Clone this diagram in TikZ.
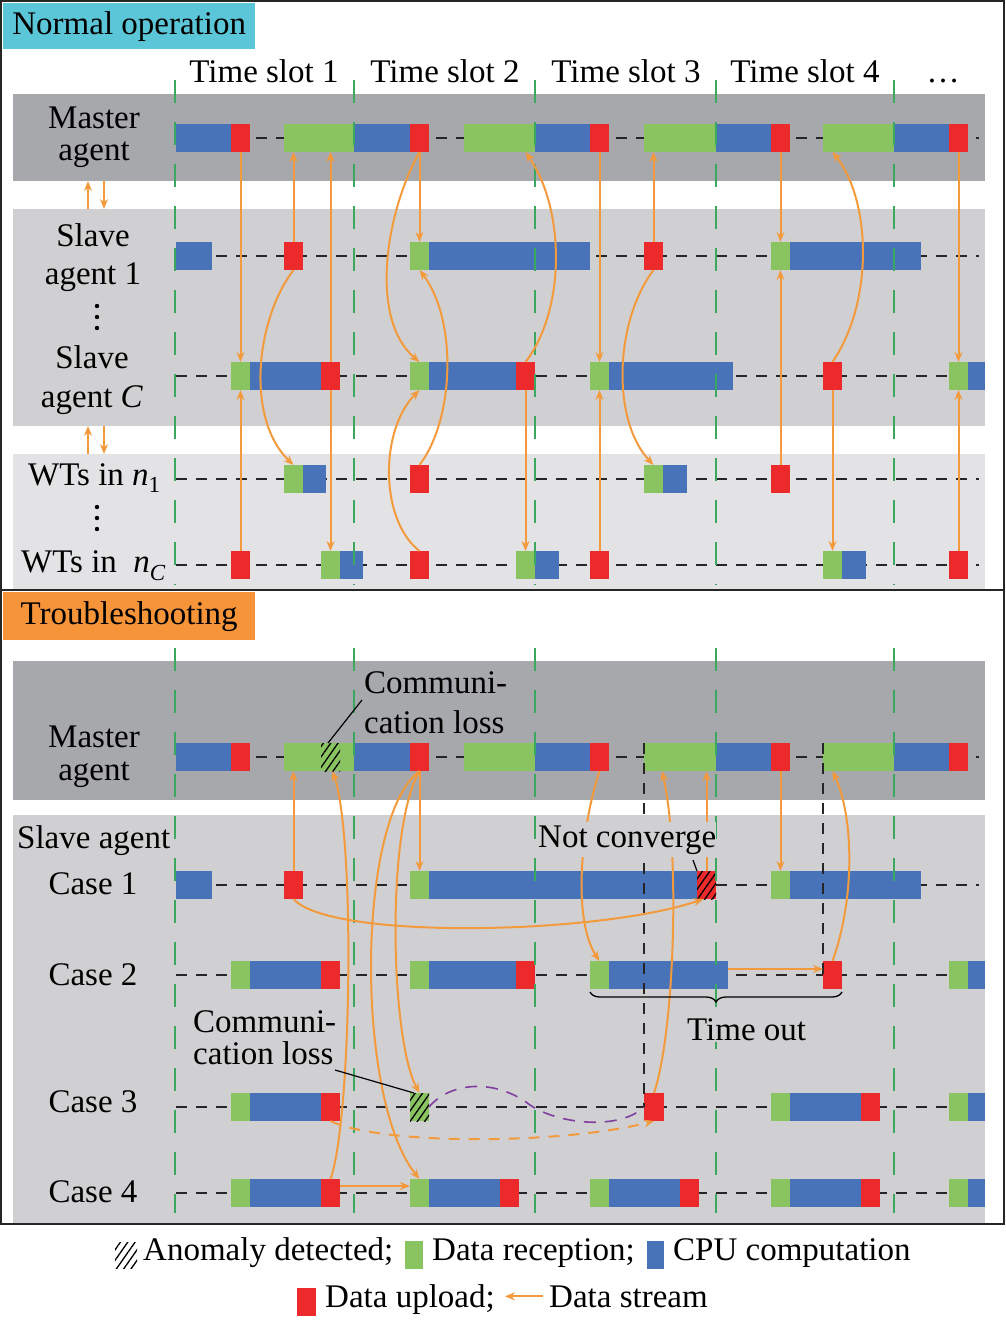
\documentclass[tikz,border=0pt]{standalone}
\usepackage{fontspec}
\setmainfont{Liberation Serif}
\usepackage{tikz}
\usetikzlibrary{arrows.meta,patterns.meta,decorations.pathreplacing}
\definecolor{cgreen}{RGB}{137,196,96}
\definecolor{cblue}{RGB}{72,115,185}
\definecolor{cred}{RGB}{236,42,43}
\definecolor{corange}{RGB}{243,154,61}
\definecolor{ccyan}{RGB}{91,198,216}
\definecolor{ctitle}{RGB}{246,148,58}
\definecolor{gdark}{RGB}{167,168,171}
\definecolor{gmid}{RGB}{208,208,210}
\definecolor{glight}{RGB}{227,227,229}
\definecolor{cgrid}{RGB}{58,168,95}
\definecolor{cpurple}{RGB}{128,62,160}
\tikzstyle{seg}=[rectangle,minimum height=28pt,inner sep=0pt,outer sep=0pt,anchor=west]
\tikzstyle{hatched}=[pattern={Lines[angle=55,distance=6pt,line width=1.3pt]}]
\tikzstyle{band}=[rectangle,inner sep=0pt,outer sep=0pt,minimum width=972pt,anchor=north west]
\tikzstyle{lbl}=[font=\fontsize{33}{33}\selectfont,inner sep=0pt,align=center]
\tikzstyle{flow}=[draw=corange,line width=2pt,-{Stealth[length=10pt,width=8pt]}]
\tikzstyle{timeline}=[draw=black!85,line width=1.3pt,dash pattern=on 11pt off 9pt]
\tikzstyle{slotline}=[draw=cgrid,line width=1.3pt,dash pattern=on 23pt off 19pt]
\tikzstyle{leader}=[draw=black,line width=1.2pt]

\begin{document}
\begin{tikzpicture}[x=1pt,y=-1pt]
    \useasboundingbox (0,0) rectangle (1006,1320);
    % Gray bands of the two panels
    \node[band, fill=gdark, minimum height=87pt] (nBandM) at (13,94) {};
    \node[band, fill=gmid, minimum height=217pt] (nBandS) at (13,209) {};
    \node[band, fill=glight, minimum height=136pt] (nBandW) at (13,454) {};
    \node[band, fill=gdark, minimum height=139pt] (tBandM) at (13,661) {};
    \node[band, fill=gmid, minimum height=409pt] (tBandS) at (13,815) {};

    % Frame and panel titles
    \draw[line width=2pt, draw=black!85] (1,1) rectangle (1004,1224);
    \draw[line width=2pt, draw=black!85] (1,590) -- (1004,590);
    \node[lbl, fill=ccyan, anchor=north west, minimum width=252pt, minimum height=46pt] (titNormal) at (3,3) {Normal operation};
    \node[lbl, fill=ctitle, anchor=north west, minimum width=252pt, minimum height=48pt] (titTrouble) at (3,592) {Troubleshooting};

    % Time lines of every row
    \foreach \y in {138,256,376,479,565,757,885,975,1107,1193}
        \draw[timeline] (176,\y) -- (979,\y);

    % Normal operation: the blocks of each row
    \foreach \x/\w/\c/\name in {176/55/cblue/nMb1, 231/19/cred/nMr1, 284/70/cgreen/nMg2, 354/56/cblue/nMb2, 410/19/cred/nMr2, 464/71/cgreen/nMg3, 535/55/cblue/nMb3, 590/19/cred/nMr3, 644/72/cgreen/nMg4, 716/55/cblue/nMb4, 771/19/cred/nMr4, 823/71/cgreen/nMg5, 894/55/cblue/nMb5, 949/19/cred/nMr5}
        \node[seg, fill=\c, minimum width=\w pt] (\name) at (\x,138) {};
    \foreach \x/\w/\c/\name in {176/36/cblue/nAb1, 284/19/cred/nAr1, 410/19/cgreen/nAg2, 429/161/cblue/nAb2, 644/19/cred/nAr3, 771/19/cgreen/nAg4, 790/131/cblue/nAb4}
        \node[seg, fill=\c, minimum width=\w pt] (\name) at (\x,256) {};
    \foreach \x/\w/\c/\name in {231/19/cgreen/nCg1, 250/71/cblue/nCb1, 321/19/cred/nCr1, 410/19/cgreen/nCg2, 429/87/cblue/nCb2, 516/19/cred/nCr2, 590/19/cgreen/nCg3, 609/124/cblue/nCb3, 823/19/cred/nCr4, 949/19/cgreen/nCg5, 968/17/cblue/nCb5}
        \node[seg, fill=\c, minimum width=\w pt] (\name) at (\x,376) {};
    \foreach \x/\w/\c/\name in {284/19/cgreen/nWg1, 303/23/cblue/nWb1, 410/19/cred/nWr2, 644/19/cgreen/nWg3, 663/24/cblue/nWb3, 771/19/cred/nWr4}
        \node[seg, fill=\c, minimum width=\w pt] (\name) at (\x,479) {};
    \foreach \x/\w/\c/\name in {231/19/cred/nVr1, 321/19/cgreen/nVg1, 340/23/cblue/nVb1, 410/19/cred/nVr2, 516/19/cgreen/nVg2, 535/24/cblue/nVb2, 590/19/cred/nVr3, 823/19/cgreen/nVg4, 842/24/cblue/nVb4, 949/19/cred/nVr5}
        \node[seg, fill=\c, minimum width=\w pt] (\name) at (\x,565) {};

    % Troubleshooting: the blocks of each row
    \foreach \x/\w/\c/\name in {176/55/cblue/tMb1, 231/19/cred/tMr1, 284/70/cgreen/tMg2, 354/56/cblue/tMb2, 410/19/cred/tMr2, 464/71/cgreen/tMg3, 535/55/cblue/tMb3, 590/19/cred/tMr3, 644/72/cgreen/tMg4, 716/55/cblue/tMb4, 771/19/cred/tMr4, 823/71/cgreen/tMg5, 894/55/cblue/tMb5, 949/19/cred/tMr5}
        \node[seg, fill=\c, minimum width=\w pt] (\name) at (\x,757) {};
    \node[seg, minimum width=19pt, preaction={fill=cgreen}, hatched] (tMh) at (321,757) {};
    \foreach \x/\w/\c/\name in {176/36/cblue/t1b1, 284/19/cred/t1r1, 410/19/cgreen/t1g2, 429/268/cblue/t1b2, 771/19/cgreen/t1g4, 790/131/cblue/t1b4}
        \node[seg, fill=\c, minimum width=\w pt] (\name) at (\x,885) {};
    \node[seg, minimum width=19pt, preaction={fill=cred}, hatched] (t1h) at (697,885) {};
    \foreach \x/\w/\c/\name in {231/19/cgreen/t2g1, 250/71/cblue/t2b1, 321/19/cred/t2r1, 410/19/cgreen/t2g2, 429/87/cblue/t2b2, 516/19/cred/t2r2, 590/19/cgreen/t2g3, 609/119/cblue/t2b3, 823/19/cred/t2r4, 949/19/cgreen/t2g5, 968/17/cblue/t2b5}
        \node[seg, fill=\c, minimum width=\w pt] (\name) at (\x,975) {};
    \foreach \x/\w/\c/\name in {231/19/cgreen/t3g1, 250/71/cblue/t3b1, 321/19/cred/t3r1, 644/20/cred/t3r3, 771/19/cgreen/t3g4, 790/71/cblue/t3b4, 861/19/cred/t3r4, 949/19/cgreen/t3g5, 968/17/cblue/t3b5}
        \node[seg, fill=\c, minimum width=\w pt] (\name) at (\x,1107) {};
    \node[seg, minimum width=19pt, preaction={fill=cgreen}, hatched] (t3h) at (410,1107) {};
    \foreach \x/\w/\c/\name in {231/19/cgreen/t4g1, 250/71/cblue/t4b1, 321/19/cred/t4r1, 410/19/cgreen/t4g2, 429/71/cblue/t4b2, 500/19/cred/t4r2, 590/19/cgreen/t4g3, 609/71/cblue/t4b3, 680/19/cred/t4r3, 771/19/cgreen/t4g4, 790/71/cblue/t4b4, 861/19/cred/t4r4, 949/19/cgreen/t4g5, 968/17/cblue/t4b5}
        \node[seg, fill=\c, minimum width=\w pt] (\name) at (\x,1193) {};

    % Time slot borders
    \foreach \x in {175,354,535,716,894} {
        \draw[slotline] (\x,80) -- (\x,585);
        \draw[slotline] (\x,648) -- (\x,1213);
    }
    \draw[timeline] (tMg4.north west) -- (t3r3.west);
    \draw[timeline] (tMg5.north west) -- (t2r4.west);

    % Normal operation: data streams
    \foreach \source/\dest in {nMr1/nCg1, nCr1/nVg1, nMr2/nAg2, nMr3/nCg3, nCr2/nVg2, nMr4/nAg4, nCr4/nVg4, nMr5/nCg5}
        \draw[flow] (\source.south) -- (\source.south |- \dest.north);
    \foreach \source/\dest in {nVr1/nCg1, nAr1/nMg2, nCr1/nMg2, nVr3/nCg3, nAr3/nMg4, nWr4/nAg4, nVr5/nCg5}
        \draw[flow] (\source.north) -- (\source.north |- \dest.south);
    \draw[flow] (nAr1.south) .. controls +(-38,50) and +(-48,-46) .. (nWg1.north);
    \draw[flow] (nMr2.south) .. controls +(-35,63) and +(-50,-42) .. (nCg2.north);
    \draw[flow] (nWr2.north) .. controls +(35,-46) and +(38,50) .. (nAg2.south);
    \draw[flow] (nVr2.north) .. controls +(-40,-31) and +(-40,40) .. (nCg2.south);
    \draw[flow] (nCr2.north) .. controls +(40,-52) and +(40,58) .. (nCr2.north |- nMg3.south);
    \draw[flow] (nAr3.south) .. controls +(-38,50) and +(-43,-46) .. (nWg3.north);
    \draw[flow] (nCr4.north) .. controls +(42,-62) and +(38,48) .. (nCr4.north |- nMg5.south);

    % Agents talk between the bands
    \coordinate (arrL) at (88,0);
    \coordinate (arrR) at (104,0);
    \draw[flow] (nBandS.north -| arrL) -- (nBandM.south -| arrL);
    \draw[flow] (nBandM.south -| arrR) -- (nBandS.north -| arrR);
    \draw[flow] (nBandW.north -| arrL) -- (nBandS.south -| arrL);
    \draw[flow] (nBandS.south -| arrR) -- (nBandW.north -| arrR);

    % Troubleshooting: data streams
    \foreach \source/\dest in {tMr2/t1g2, tMr4/t1g4}
        \draw[flow] (\source.south) -- (\source.south |- \dest.north);
    \foreach \source/\dest in {t1r1/tMg2, t1h/tMg4}
        \draw[flow] (\source.north) -- (\source.north |- \dest.south);
    \draw[flow] ([yshift=6pt]t2b3.east) -- ([yshift=6pt]t2r4.west);
    \draw[flow] ([yshift=7pt]t4r1.east) -- ([yshift=7pt]t4g2.west);
    \draw[flow] (t4r1.north) .. controls +(21,-59) and +(23,68) .. ([xshift=2pt]tMh.south);
    \draw[flow] (tMr2.south) .. controls +(-64,48) and +(-64,-79) .. (t4g2.north);
    \draw[flow] (tMr2.south) .. controls +(-34,58) and +(-29,-53) .. (t3h.north);
    \draw[flow] (t1r1.south) .. controls +(36,41) and +(-106,36) .. ([xshift=-3pt]t1h.south);
    \draw[flow] (tMr3.south) .. controls +(-19,58) and +(-27,-41) .. (t2g3.north);
    \draw[flow] (t3r3.north) .. controls +(21,-63) and +(18,78) .. ([xshift=8pt]t3r3.north |- tMg4.south);
    \draw[flow] (t2r4.north) .. controls +(22,-61) and +(22,48) .. (t2r4.north |- tMg5.south);
    \draw[flow, dash pattern=on 11pt off 9pt] (t3r1.south) .. controls +(50,24) and +(-94,24) .. (t3r3.south);
    \coordinate (wave) at (530,1105);
    \draw[draw=cpurple, line width=1.6pt, dash pattern=on 12pt off 9pt] (t3h.east) .. controls (450,1082) and (495,1078) .. (wave) .. controls (560,1125) and (620,1130) .. (t3r3.west);

    % Time out brace
    \draw[line width=1.3pt, decorate, decoration={brace, mirror, amplitude=10pt}] ([yshift=-3pt]t2g3.south west) -- ([yshift=-3pt]t2r4.south east);

    % Row labels
    \node[lbl, anchor=base] (labNM) at (94,160) {Master\\[-1pt]agent};
    \node[lbl, anchor=base] (labNA) at (93,284) {Slave\\[5pt]agent 1};
    \node[lbl, anchor=base] (labNC) at (92,407) {Slave\\[6pt]agent \textit{C}};
    \node[lbl, anchor=base west] (labNW) at (28,485) {WTs in \textit{n}\raisebox{-7pt}{\fontsize{23}{23}\selectfont 1}};
    \node[lbl, anchor=base west] (labNV) at (21,572) {WTs in~~\textit{n}\raisebox{-8pt}{\fontsize{23}{23}\selectfont\textit{C}}};
    \foreach \y in {306,317,328,507,518,529}
        \fill (97,\y) circle (2.2pt);
    \foreach \x/\t/\name in {264/Time slot 1/ts1, 445/Time slot 2/ts2, 626/Time slot 3/ts3, 805/Time slot 4/ts4, 943/…/ts5}
        \node[lbl, anchor=base] (\name) at (\x,82) {\t};
    \node[lbl, anchor=base] (labTM) at (94,780) {Master\\agent};
    \node[lbl, anchor=base west] (labTS) at (17,848) {Slave agent};
    \foreach \y/\k in {894/1, 985/2, 1112/3, 1202/4}
        \node[lbl, anchor=base] (case\k) at (93,\y) {Case \k};

    % Notes
    \node[lbl, anchor=base west, align=left] (lossA) at (364,733) {Communi-\\[7pt]cation loss};
    \node[lbl, anchor=base west, align=left] (lossB) at (193,1064) {Communi-\\[-1pt]cation loss};
    \node[lbl, anchor=base west, fill=gmid, inner ysep=3pt] (noconv) at (538,847) {Not converge};
    \node[lbl, anchor=base west, fill=gmid, inner ysep=2pt] (tout) at (687,1040) {Time out};
    \coordinate (lossAend) at (362,700);
    \coordinate (lossBend) at (335,1070);
    \coordinate (noconvend) at (693,860);
    \draw[leader] (lossAend) -- ([xshift=7pt]tMh.north west);
    \draw[leader] (lossBend) -- ([xshift=4pt]t3h.north west);
    \draw[leader] (noconvend) -- (t1h.north west);

    % Legend
    \node[seg, minimum width=22pt, minimum height=26pt, hatched] (lgA) at (115,1255) {};
    \node[lbl, anchor=base west] (lgAt) at (143,1260) {Anomaly detected;};
    \node[seg, fill=cgreen, minimum width=18pt] (lgR) at (405,1255) {};
    \node[lbl, anchor=base west] (lgRt) at (432,1260) {Data reception;};
    \node[seg, fill=cblue, minimum width=17pt] (lgC) at (647,1255) {};
    \node[lbl, anchor=base west] (lgCt) at (673,1260) {CPU computation};
    \node[seg, fill=cred, minimum width=19pt] (lgU) at (297,1302) {};
    \node[lbl, anchor=base west] (lgUt) at (325,1307) {Data upload;};
    \node[lbl, anchor=base west] (lgSt) at (549,1307) {Data stream};
    \draw[flow, shorten <=6pt, shorten >=10pt] (lgSt.west) -- (lgSt.west -| lgUt.east);
\end{tikzpicture}
\end{document}
